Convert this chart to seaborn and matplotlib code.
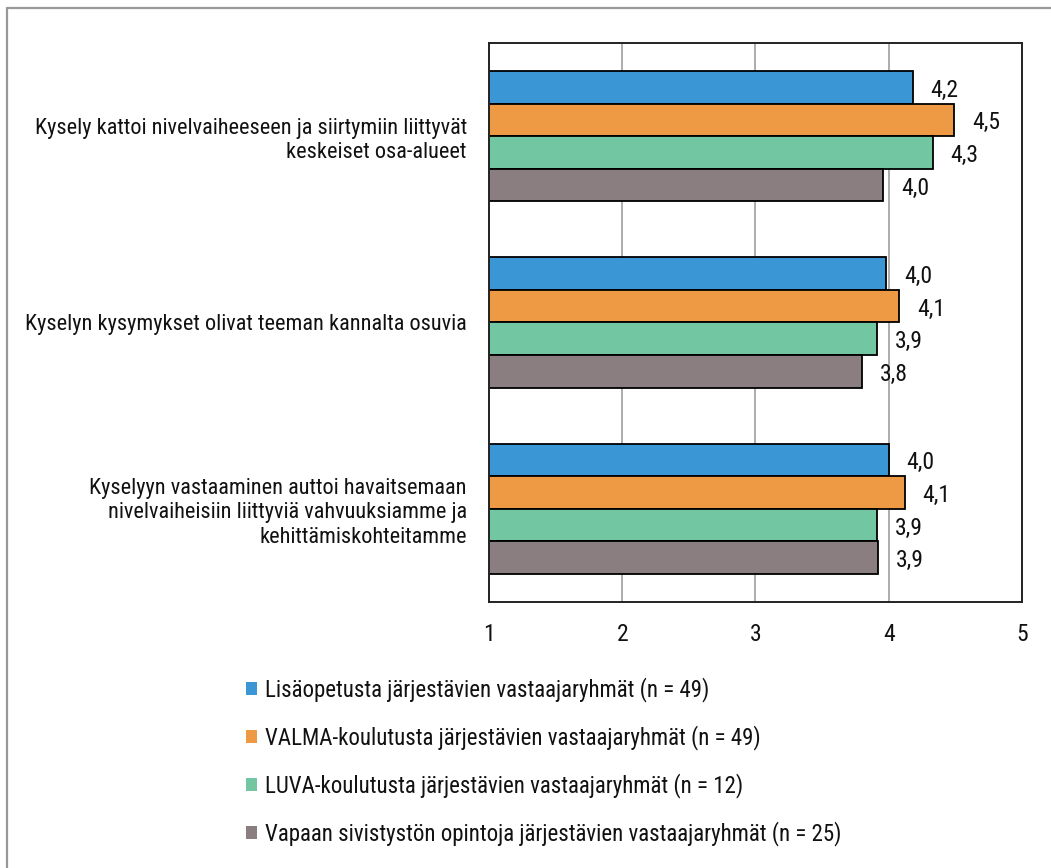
import numpy as np
import pandas as pd
import seaborn as sns
import matplotlib.pyplot as plt
from matplotlib.lines import Line2D

questions = [
    "Kysely kattoi nivelvaiheeseen ja siirtymiin liittyvät\nkeskeiset osa-alueet",
    "Kyselyn kysymykset olivat teeman kannalta osuvia",
    "Kyselyyn vastaaminen auttoi havaitsemaan\nnivelvaiheisiin liittyviä vahvuuksiamme ja\nkehittämiskohteitamme",
]
groups = [
    "Lisäopetusta järjestävien vastaajaryhmät (n = 49)",
    "VALMA-koulutusta järjestävien vastaajaryhmät (n = 49)",
    "LUVA-koulutusta järjestävien vastaajaryhmät (n = 12)",
    "Vapaan sivistystön opintoja järjestävien vastaajaryhmät (n = 25)",
]
lisaopetus = [4.18, 3.98, 4.00]
valma = [4.49, 4.08, 4.12]
luva = [4.33, 3.91, 3.91]
vapaa = [3.96, 3.80, 3.92]
colors = ["#3A96D4", "#EE9A45", "#72C7A2", "#8A7E80"]

rows = []
for g, vals in zip(groups, [lisaopetus, valma, luva, vapaa]):
    for q, v in zip(questions, vals):
        rows.append({"kysymys": q, "ryhma": g, "arvo": v})
df = pd.DataFrame(rows)

sns.set_style("white")
plt.rcParams["font.family"] = ["Roboto Condensed", "Liberation Sans", "DejaVu Sans"]
plt.rcParams["text.color"] = "#111111"

fig = plt.figure(figsize=(10.51, 8.68), dpi=100)
ax = fig.add_axes([0.4653, 0.3065, 0.507, 0.644])

sns.barplot(data=df, y="kysymys", x="arvo", hue="ryhma", hue_order=groups,
            order=questions, palette=colors, orient="h", width=0.7,
            edgecolor="black", linewidth=1.3, saturation=1, ax=ax, legend=True)

# value labels, Finnish decimal comma
for cont in ax.containers:
    for b in cont:
        v = b.get_width()
        ax.annotate(f"{v:.1f}".replace(".", ","), (v, b.get_y() + b.get_height() / 2),
                    xytext=(18, -3), textcoords="offset pixels",
                    ha="left", va="center", fontsize=17)

ax.set_xlim(1, 5)
ax.set_ylim(2.5, -0.5)
ax.set_xticks([1, 2, 3, 4, 5])
ax.xaxis.grid(True, color="#A6A6A6", linewidth=1.3)
ax.set_axisbelow(True)
ax.set_xlabel("")
ax.set_ylabel("")
for s in ax.spines.values():
    s.set_color("#222222")
    s.set_linewidth(1.4)
ax.tick_params(axis="x", length=0, pad=15, labelsize=17, labelcolor="#111111")
ax.tick_params(axis="y", length=0, pad=16, labelsize=16, labelcolor="#111111")
for t in ax.get_yticklabels():
    t.set_linespacing(1.2)

# legend below the plot
handles, labels = ax.get_legend_handles_labels()
ax.get_legend().remove()
leg = fig.legend(handles, labels, loc="upper left", bbox_to_anchor=(0.225, 0.230),
                 frameon=False, fontsize=16.5,
                 handlelength=0.5, handleheight=0.5, handletextpad=0.35,
                 labelspacing=1.0, borderaxespad=0)
for h in leg.legend_handles:
    h.set_edgecolor("none")

# outer frame (top and left edges)
fig.add_artist(Line2D([0.0068, 1.0], [0.9905, 0.9905], color="#999999", lw=1.6))
fig.add_artist(Line2D([0.0068, 0.0068], [0.0, 0.9905], color="#999999", lw=1.6))

fig.savefig("out.png", dpi=100)
